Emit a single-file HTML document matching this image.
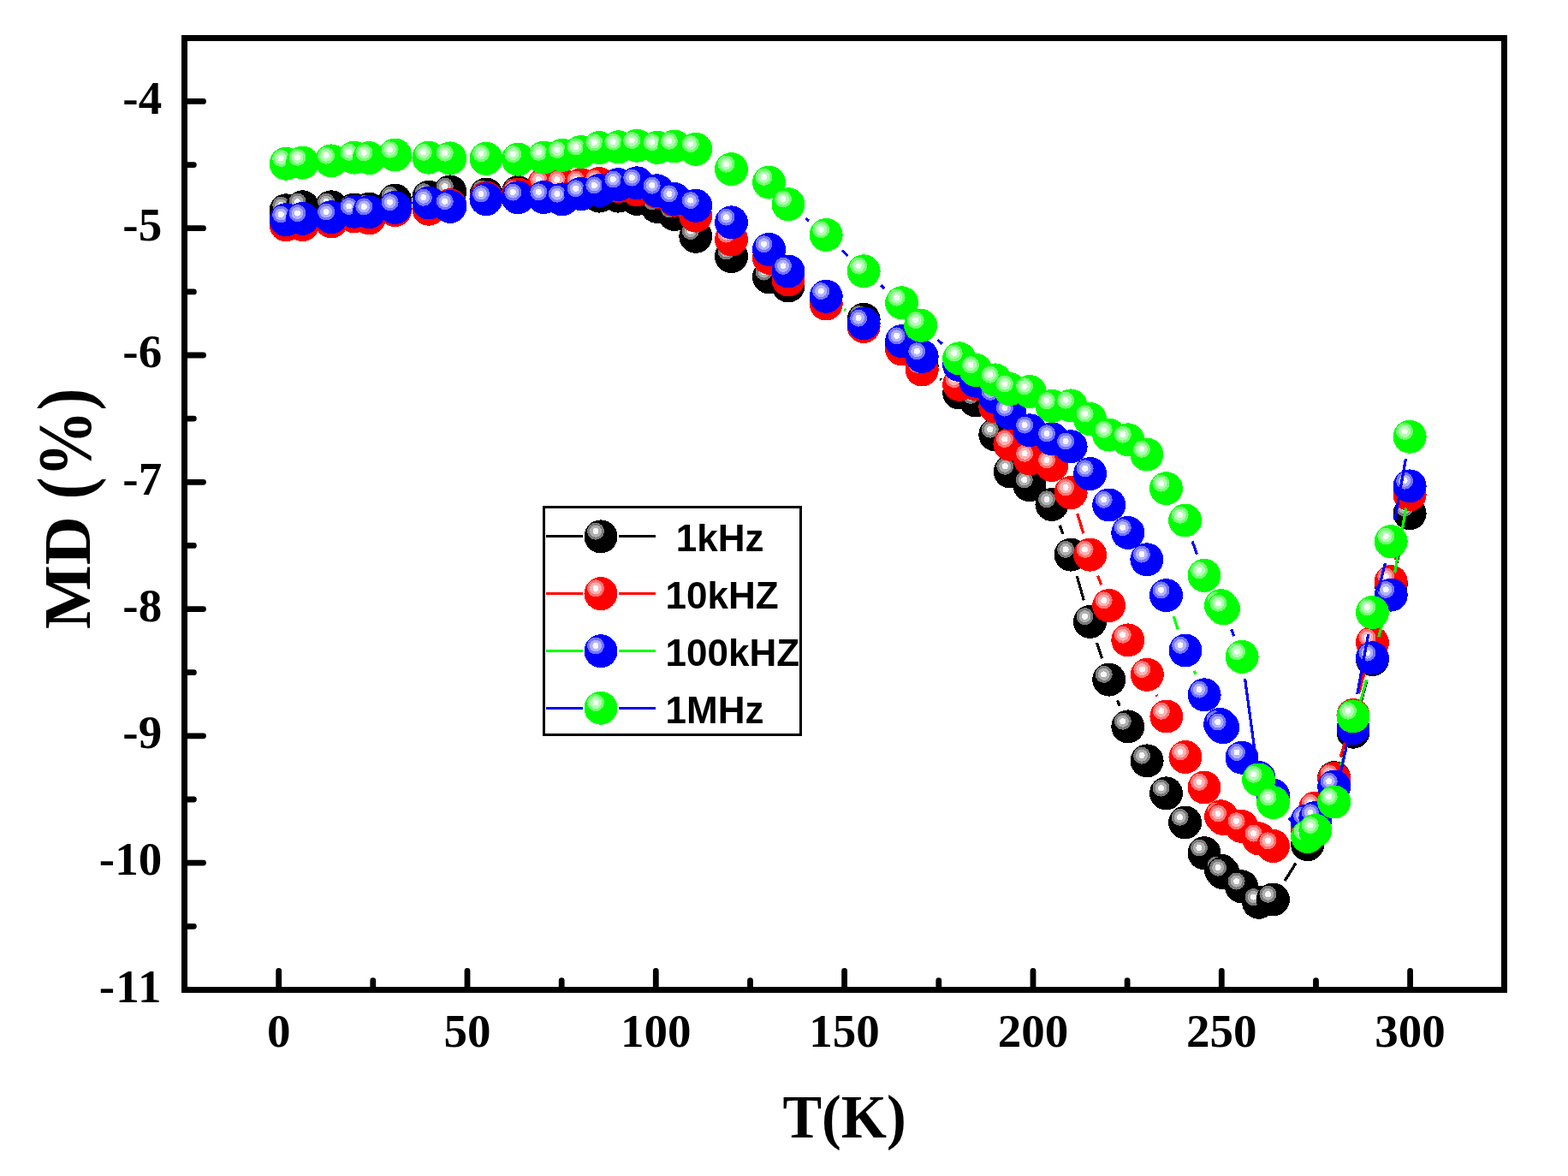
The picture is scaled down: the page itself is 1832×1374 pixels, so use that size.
<!DOCTYPE html>
<html lang="en"><head><meta charset="utf-8"><title>MD (%) vs T(K)</title>
<style>
html,body{margin:0;padding:0;background:#fff;}
body{width:1832px;height:1374px;overflow:hidden;}
svg{display:block;}
.tk{font-family:"Liberation Serif",serif;font-weight:bold;font-size:55px;fill:#000;}
.ax{font-family:"Liberation Serif",serif;font-weight:bold;font-size:72px;fill:#000;}
.lg{font-family:"Liberation Sans",sans-serif;font-weight:bold;font-size:43.5px;fill:#000;white-space:pre;}
</style></head><body>
<svg width="1832" height="1374" viewBox="0 0 1832 1374" shape-rendering="crispEdges">
<rect width="1832" height="1374" fill="#fff"/>

<g fill="none" stroke="#000" stroke-width="6.8" stroke-linecap="round" stroke-linejoin="miter">
<rect x="215.5" y="44.3" width="1542.3" height="1112.1"/>
<path stroke-width="6.8" shape-rendering="geometricPrecision" d="M325.7 1156.4V1134.5M435.8 1156.4V1145.6M546 1156.4V1134.5M656.2 1156.4V1145.6M766.3 1156.4V1134.5M876.5 1156.4V1145.6M986.6 1156.4V1134.5M1096.8 1156.4V1145.6M1207 1156.4V1134.5M1317.1 1156.4V1145.6M1427.3 1156.4V1134.5M1537.5 1156.4V1145.6M1647.6 1156.4V1134.5M215.5 118.4H237.5M215.5 192.6H226.4M215.5 266.7H237.5M215.5 340.9H226.4M215.5 415H237.5M215.5 489.1H226.4M215.5 563.3H237.5M215.5 637.4H226.4M215.5 711.6H237.5M215.5 785.7H226.4M215.5 859.8H237.5M215.5 934H226.4M215.5 1008.1H237.5M215.5 1082.3H226.4"/>
</g>
<g class="tk" text-anchor="end">
<text x="189.2" y="132.7">-4</text>
<text x="189.2" y="281">-5</text>
<text x="189.2" y="429.3">-6</text>
<text x="189.2" y="577.6">-7</text>
<text x="189.2" y="725.9">-8</text>
<text x="189.2" y="874.1">-9</text>
<text x="189.2" y="1022.4">-10</text>
<text x="189.9" y="1170.7" style="letter-spacing:1.3px">-11</text>
</g>
<g class="tk" text-anchor="middle">
<text x="325.7" y="1222.8">0</text>
<text x="546" y="1222.8">50</text>
<text x="766.3" y="1222.8">100</text>
<text x="986.6" y="1222.8">150</text>
<text x="1207" y="1222.8">200</text>
<text x="1427.3" y="1222.8">250</text>
<text x="1647.6" y="1222.8">300</text>
</g>
<text class="ax" text-anchor="middle" transform="translate(986.6 1329.2) scale(0.95 1.01)">T(K)</text>
<text class="ax" id="yl1" style="font-size:78px" transform="translate(105 735) rotate(-90) scale(1.015 1)">MD</text>
<text class="ax" id="yl2" style="font-size:78px" transform="translate(105 583.5) rotate(-90) scale(1 1.14)">(%)</text>
<g id="s-black">
<path fill="none" stroke="#000000" stroke-width="3.2" d="M1098.3 442.7L1099.6 443.8M1238.2 613.8L1241.9 623.8M1258.3 673.1L1266.3 701.4M1281.6 751.1L1287.6 769.4M1305.5 818.2L1308.1 824.8M1501.2 1029L1513.9 1008.7M1547.4 934.2L1548.1 932.5M1568.7 884.7L1571 879.2M1587.6 830.1L1596.8 795.6M1609.7 745.3L1618.9 708.2M1631.8 657.9L1640.5 624.9"/>
<circle cx="334.2" cy="245.8" r="19.5" fill="#000000"/><circle cx="328.2" cy="239.6" r="10" fill="#7a7a7a"/><circle cx="328.2" cy="239.6" r="7" fill="#b0b0b0"/><circle cx="328.2" cy="239.6" r="3.5" fill="#f8f8f8"/>
<circle cx="353.5" cy="241.8" r="19.5" fill="#000000"/><circle cx="347.5" cy="235.6" r="10" fill="#7a7a7a"/><circle cx="347.5" cy="235.6" r="7" fill="#b0b0b0"/><circle cx="347.5" cy="235.6" r="3.5" fill="#f8f8f8"/>
<circle cx="387.1" cy="241.8" r="19.5" fill="#000000"/><circle cx="381.1" cy="235.6" r="10" fill="#7a7a7a"/><circle cx="381.1" cy="235.6" r="7" fill="#b0b0b0"/><circle cx="381.1" cy="235.6" r="3.5" fill="#f8f8f8"/>
<circle cx="413.8" cy="245" r="19.5" fill="#000000"/><circle cx="407.8" cy="238.8" r="10" fill="#7a7a7a"/><circle cx="407.8" cy="238.8" r="7" fill="#b0b0b0"/><circle cx="407.8" cy="238.8" r="3.5" fill="#f8f8f8"/>
<circle cx="431.3" cy="244.2" r="19.5" fill="#000000"/><circle cx="425.3" cy="238" r="10" fill="#7a7a7a"/><circle cx="425.3" cy="238" r="7" fill="#b0b0b0"/><circle cx="425.3" cy="238" r="3.5" fill="#f8f8f8"/>
<circle cx="461.6" cy="234.1" r="19.5" fill="#000000"/><circle cx="455.6" cy="227.9" r="10" fill="#7a7a7a"/><circle cx="455.6" cy="227.9" r="7" fill="#b0b0b0"/><circle cx="455.6" cy="227.9" r="3.5" fill="#f8f8f8"/>
<circle cx="500.9" cy="230.3" r="19.5" fill="#000000"/><circle cx="494.9" cy="224.1" r="10" fill="#7a7a7a"/><circle cx="494.9" cy="224.1" r="7" fill="#b0b0b0"/><circle cx="494.9" cy="224.1" r="3.5" fill="#f8f8f8"/>
<circle cx="525.8" cy="223.9" r="19.5" fill="#000000"/><circle cx="519.8" cy="217.7" r="10" fill="#7a7a7a"/><circle cx="519.8" cy="217.7" r="7" fill="#b0b0b0"/><circle cx="519.8" cy="217.7" r="3.5" fill="#f8f8f8"/>
<circle cx="568" cy="227" r="19.5" fill="#000000"/><circle cx="562" cy="220.8" r="10" fill="#7a7a7a"/><circle cx="562" cy="220.8" r="7" fill="#b0b0b0"/><circle cx="562" cy="220.8" r="3.5" fill="#f8f8f8"/>
<circle cx="605.3" cy="224.6" r="19.5" fill="#000000"/><circle cx="599.3" cy="218.4" r="10" fill="#7a7a7a"/><circle cx="599.3" cy="218.4" r="7" fill="#b0b0b0"/><circle cx="599.3" cy="218.4" r="3.5" fill="#f8f8f8"/>
<circle cx="635.3" cy="221.4" r="19.5" fill="#000000"/><circle cx="629.3" cy="215.2" r="10" fill="#7a7a7a"/><circle cx="629.3" cy="215.2" r="7" fill="#b0b0b0"/><circle cx="629.3" cy="215.2" r="3.5" fill="#f8f8f8"/>
<circle cx="656.9" cy="221.4" r="19.5" fill="#000000"/><circle cx="650.9" cy="215.2" r="10" fill="#7a7a7a"/><circle cx="650.9" cy="215.2" r="7" fill="#b0b0b0"/><circle cx="650.9" cy="215.2" r="3.5" fill="#f8f8f8"/>
<circle cx="678.7" cy="226.7" r="19.5" fill="#000000"/><circle cx="672.7" cy="220.5" r="10" fill="#7a7a7a"/><circle cx="672.7" cy="220.5" r="7" fill="#b0b0b0"/><circle cx="672.7" cy="220.5" r="3.5" fill="#f8f8f8"/>
<circle cx="700.3" cy="229.1" r="19.5" fill="#000000"/><circle cx="694.3" cy="222.9" r="10" fill="#7a7a7a"/><circle cx="694.3" cy="222.9" r="7" fill="#b0b0b0"/><circle cx="694.3" cy="222.9" r="3.5" fill="#f8f8f8"/>
<circle cx="722.4" cy="229.1" r="19.5" fill="#000000"/><circle cx="716.4" cy="222.9" r="10" fill="#7a7a7a"/><circle cx="716.4" cy="222.9" r="7" fill="#b0b0b0"/><circle cx="716.4" cy="222.9" r="3.5" fill="#f8f8f8"/>
<circle cx="744.2" cy="232.4" r="19.5" fill="#000000"/><circle cx="738.2" cy="226.2" r="10" fill="#7a7a7a"/><circle cx="738.2" cy="226.2" r="7" fill="#b0b0b0"/><circle cx="738.2" cy="226.2" r="3.5" fill="#f8f8f8"/>
<circle cx="767.7" cy="241.4" r="19.5" fill="#000000"/><circle cx="761.7" cy="235.2" r="10" fill="#7a7a7a"/><circle cx="761.7" cy="235.2" r="7" fill="#b0b0b0"/><circle cx="761.7" cy="235.2" r="3.5" fill="#f8f8f8"/>
<circle cx="787.9" cy="250.4" r="19.5" fill="#000000"/><circle cx="781.9" cy="244.2" r="10" fill="#7a7a7a"/><circle cx="781.9" cy="244.2" r="7" fill="#b0b0b0"/><circle cx="781.9" cy="244.2" r="3.5" fill="#f8f8f8"/>
<circle cx="812.8" cy="276.3" r="19.5" fill="#000000"/><circle cx="806.8" cy="270.1" r="10" fill="#7a7a7a"/><circle cx="806.8" cy="270.1" r="7" fill="#b0b0b0"/><circle cx="806.8" cy="270.1" r="3.5" fill="#f8f8f8"/>
<circle cx="854.5" cy="299.6" r="19.5" fill="#000000"/><circle cx="848.5" cy="293.4" r="10" fill="#7a7a7a"/><circle cx="848.5" cy="293.4" r="7" fill="#b0b0b0"/><circle cx="848.5" cy="293.4" r="3.5" fill="#f8f8f8"/>
<circle cx="898.5" cy="323.8" r="19.5" fill="#000000"/><circle cx="892.5" cy="317.6" r="10" fill="#7a7a7a"/><circle cx="892.5" cy="317.6" r="7" fill="#b0b0b0"/><circle cx="892.5" cy="317.6" r="3.5" fill="#f8f8f8"/>
<circle cx="921" cy="334" r="19.5" fill="#000000"/><circle cx="915" cy="327.8" r="10" fill="#7a7a7a"/><circle cx="915" cy="327.8" r="7" fill="#b0b0b0"/><circle cx="915" cy="327.8" r="3.5" fill="#f8f8f8"/>
<circle cx="965.2" cy="355" r="19.5" fill="#000000"/><circle cx="959.2" cy="348.8" r="10" fill="#7a7a7a"/><circle cx="959.2" cy="348.8" r="7" fill="#b0b0b0"/><circle cx="959.2" cy="348.8" r="3.5" fill="#f8f8f8"/>
<circle cx="1009.1" cy="373.3" r="19.5" fill="#000000"/><circle cx="1003.1" cy="367.1" r="10" fill="#7a7a7a"/><circle cx="1003.1" cy="367.1" r="7" fill="#b0b0b0"/><circle cx="1003.1" cy="367.1" r="3.5" fill="#f8f8f8"/>
<circle cx="1053.6" cy="400" r="19.5" fill="#000000"/><circle cx="1047.6" cy="393.8" r="10" fill="#7a7a7a"/><circle cx="1047.6" cy="393.8" r="7" fill="#b0b0b0"/><circle cx="1047.6" cy="393.8" r="3.5" fill="#f8f8f8"/>
<circle cx="1077.2" cy="427.5" r="19.5" fill="#000000"/><circle cx="1071.2" cy="421.3" r="10" fill="#7a7a7a"/><circle cx="1071.2" cy="421.3" r="7" fill="#b0b0b0"/><circle cx="1071.2" cy="421.3" r="3.5" fill="#f8f8f8"/>
<circle cx="1120.7" cy="459" r="19.5" fill="#000000"/><circle cx="1114.7" cy="452.8" r="10" fill="#7a7a7a"/><circle cx="1114.7" cy="452.8" r="7" fill="#b0b0b0"/><circle cx="1114.7" cy="452.8" r="3.5" fill="#f8f8f8"/>
<circle cx="1140" cy="468" r="19.5" fill="#000000"/><circle cx="1134" cy="461.8" r="10" fill="#7a7a7a"/><circle cx="1134" cy="461.8" r="7" fill="#b0b0b0"/><circle cx="1134" cy="461.8" r="3.5" fill="#f8f8f8"/>
<circle cx="1162.8" cy="507.9" r="19.5" fill="#000000"/><circle cx="1156.8" cy="501.7" r="10" fill="#7a7a7a"/><circle cx="1156.8" cy="501.7" r="7" fill="#b0b0b0"/><circle cx="1156.8" cy="501.7" r="3.5" fill="#f8f8f8"/>
<circle cx="1180.2" cy="551" r="19.5" fill="#000000"/><circle cx="1174.2" cy="544.8" r="10" fill="#7a7a7a"/><circle cx="1174.2" cy="544.8" r="7" fill="#b0b0b0"/><circle cx="1174.2" cy="544.8" r="3.5" fill="#f8f8f8"/>
<circle cx="1202.8" cy="566.7" r="19.5" fill="#000000"/><circle cx="1196.8" cy="560.5" r="10" fill="#7a7a7a"/><circle cx="1196.8" cy="560.5" r="7" fill="#b0b0b0"/><circle cx="1196.8" cy="560.5" r="3.5" fill="#f8f8f8"/>
<circle cx="1229" cy="589.5" r="19.5" fill="#000000"/><circle cx="1223" cy="583.3" r="10" fill="#7a7a7a"/><circle cx="1223" cy="583.3" r="7" fill="#b0b0b0"/><circle cx="1223" cy="583.3" r="3.5" fill="#f8f8f8"/>
<circle cx="1251.1" cy="648.1" r="19.5" fill="#000000"/><circle cx="1245.1" cy="641.9" r="10" fill="#7a7a7a"/><circle cx="1245.1" cy="641.9" r="7" fill="#b0b0b0"/><circle cx="1245.1" cy="641.9" r="3.5" fill="#f8f8f8"/>
<circle cx="1273.5" cy="726.4" r="19.5" fill="#000000"/><circle cx="1267.5" cy="720.2" r="10" fill="#7a7a7a"/><circle cx="1267.5" cy="720.2" r="7" fill="#b0b0b0"/><circle cx="1267.5" cy="720.2" r="3.5" fill="#f8f8f8"/>
<circle cx="1295.7" cy="794.1" r="19.5" fill="#000000"/><circle cx="1289.7" cy="787.9" r="10" fill="#7a7a7a"/><circle cx="1289.7" cy="787.9" r="7" fill="#b0b0b0"/><circle cx="1289.7" cy="787.9" r="3.5" fill="#f8f8f8"/>
<circle cx="1317.8" cy="848.9" r="19.5" fill="#000000"/><circle cx="1311.8" cy="842.7" r="10" fill="#7a7a7a"/><circle cx="1311.8" cy="842.7" r="7" fill="#b0b0b0"/><circle cx="1311.8" cy="842.7" r="3.5" fill="#f8f8f8"/>
<circle cx="1340.1" cy="888.9" r="19.5" fill="#000000"/><circle cx="1334.1" cy="882.7" r="10" fill="#7a7a7a"/><circle cx="1334.1" cy="882.7" r="7" fill="#b0b0b0"/><circle cx="1334.1" cy="882.7" r="3.5" fill="#f8f8f8"/>
<circle cx="1362.5" cy="926.9" r="19.5" fill="#000000"/><circle cx="1356.5" cy="920.7" r="10" fill="#7a7a7a"/><circle cx="1356.5" cy="920.7" r="7" fill="#b0b0b0"/><circle cx="1356.5" cy="920.7" r="3.5" fill="#f8f8f8"/>
<circle cx="1384.6" cy="961" r="19.5" fill="#000000"/><circle cx="1378.6" cy="954.8" r="10" fill="#7a7a7a"/><circle cx="1378.6" cy="954.8" r="7" fill="#b0b0b0"/><circle cx="1378.6" cy="954.8" r="3.5" fill="#f8f8f8"/>
<circle cx="1407" cy="996.7" r="19.5" fill="#000000"/><circle cx="1401" cy="990.5" r="10" fill="#7a7a7a"/><circle cx="1401" cy="990.5" r="7" fill="#b0b0b0"/><circle cx="1401" cy="990.5" r="3.5" fill="#f8f8f8"/>
<circle cx="1426.6" cy="1017.1" r="19.5" fill="#000000"/><circle cx="1420.6" cy="1010.9" r="10" fill="#7a7a7a"/><circle cx="1420.6" cy="1010.9" r="7" fill="#b0b0b0"/><circle cx="1420.6" cy="1010.9" r="3.5" fill="#f8f8f8"/>
<circle cx="1429.1" cy="1019.9" r="19.5" fill="#000000"/><circle cx="1423.1" cy="1013.7" r="10" fill="#7a7a7a"/><circle cx="1423.1" cy="1013.7" r="7" fill="#b0b0b0"/><circle cx="1423.1" cy="1013.7" r="3.5" fill="#f8f8f8"/>
<circle cx="1450.6" cy="1035.8" r="19.5" fill="#000000"/><circle cx="1444.6" cy="1029.6" r="10" fill="#7a7a7a"/><circle cx="1444.6" cy="1029.6" r="7" fill="#b0b0b0"/><circle cx="1444.6" cy="1029.6" r="3.5" fill="#f8f8f8"/>
<circle cx="1470.6" cy="1054.3" r="19.5" fill="#000000"/><circle cx="1464.6" cy="1048.1" r="10" fill="#7a7a7a"/><circle cx="1464.6" cy="1048.1" r="7" fill="#b0b0b0"/><circle cx="1464.6" cy="1048.1" r="3.5" fill="#f8f8f8"/>
<circle cx="1487.4" cy="1051" r="19.5" fill="#000000"/><circle cx="1481.4" cy="1044.8" r="10" fill="#7a7a7a"/><circle cx="1481.4" cy="1044.8" r="7" fill="#b0b0b0"/><circle cx="1481.4" cy="1044.8" r="3.5" fill="#f8f8f8"/>
<circle cx="1527.7" cy="986.7" r="19.5" fill="#000000"/><circle cx="1521.7" cy="980.5" r="10" fill="#7a7a7a"/><circle cx="1521.7" cy="980.5" r="7" fill="#b0b0b0"/><circle cx="1521.7" cy="980.5" r="3.5" fill="#f8f8f8"/>
<circle cx="1536.8" cy="958" r="19.5" fill="#000000"/><circle cx="1530.8" cy="951.8" r="10" fill="#7a7a7a"/><circle cx="1530.8" cy="951.8" r="7" fill="#b0b0b0"/><circle cx="1530.8" cy="951.8" r="3.5" fill="#f8f8f8"/>
<circle cx="1558.7" cy="908.7" r="19.5" fill="#000000"/><circle cx="1552.7" cy="902.5" r="10" fill="#7a7a7a"/><circle cx="1552.7" cy="902.5" r="7" fill="#b0b0b0"/><circle cx="1552.7" cy="902.5" r="3.5" fill="#f8f8f8"/>
<circle cx="1581" cy="855.2" r="19.5" fill="#000000"/><circle cx="1575" cy="849" r="10" fill="#7a7a7a"/><circle cx="1575" cy="849" r="7" fill="#b0b0b0"/><circle cx="1575" cy="849" r="3.5" fill="#f8f8f8"/>
<circle cx="1603.4" cy="770.5" r="19.5" fill="#000000"/><circle cx="1597.4" cy="764.3" r="10" fill="#7a7a7a"/><circle cx="1597.4" cy="764.3" r="7" fill="#b0b0b0"/><circle cx="1597.4" cy="764.3" r="3.5" fill="#f8f8f8"/>
<circle cx="1625.2" cy="683" r="19.5" fill="#000000"/><circle cx="1619.2" cy="676.8" r="10" fill="#7a7a7a"/><circle cx="1619.2" cy="676.8" r="7" fill="#b0b0b0"/><circle cx="1619.2" cy="676.8" r="3.5" fill="#f8f8f8"/>
<circle cx="1647.1" cy="599.8" r="19.5" fill="#000000"/><circle cx="1641.1" cy="593.6" r="10" fill="#7a7a7a"/><circle cx="1641.1" cy="593.6" r="7" fill="#b0b0b0"/><circle cx="1641.1" cy="593.6" r="3.5" fill="#f8f8f8"/>
</g>
<g id="s-red">
<path fill="none" stroke="#ff0000" stroke-width="3.2" d="M1258.8 600.4L1265.9 623.3M1282.6 672.5L1286.7 683.3M1351.2 811.9L1351.9 813.4M1566.2 884.7L1573.5 860.4M1587.6 810.4L1596.8 775.9M1611 725.9L1617.6 704.5M1630.7 654.2L1641.6 603.4"/>
<circle cx="334.2" cy="262.7" r="19.5" fill="#ff0000"/><circle cx="328.2" cy="256.5" r="10" fill="#ff7474"/><circle cx="328.2" cy="256.5" r="7" fill="#ffb2b2"/><circle cx="328.2" cy="256.5" r="3.5" fill="#fff8f8"/>
<circle cx="353.5" cy="262.7" r="19.5" fill="#ff0000"/><circle cx="347.5" cy="256.5" r="10" fill="#ff7474"/><circle cx="347.5" cy="256.5" r="7" fill="#ffb2b2"/><circle cx="347.5" cy="256.5" r="3.5" fill="#fff8f8"/>
<circle cx="387.1" cy="258.9" r="19.5" fill="#ff0000"/><circle cx="381.1" cy="252.7" r="10" fill="#ff7474"/><circle cx="381.1" cy="252.7" r="7" fill="#ffb2b2"/><circle cx="381.1" cy="252.7" r="3.5" fill="#fff8f8"/>
<circle cx="413.8" cy="252.9" r="19.5" fill="#ff0000"/><circle cx="407.8" cy="246.7" r="10" fill="#ff7474"/><circle cx="407.8" cy="246.7" r="7" fill="#ffb2b2"/><circle cx="407.8" cy="246.7" r="3.5" fill="#fff8f8"/>
<circle cx="431.3" cy="254.9" r="19.5" fill="#ff0000"/><circle cx="425.3" cy="248.7" r="10" fill="#ff7474"/><circle cx="425.3" cy="248.7" r="7" fill="#ffb2b2"/><circle cx="425.3" cy="248.7" r="3.5" fill="#fff8f8"/>
<circle cx="461.6" cy="245.5" r="19.5" fill="#ff0000"/><circle cx="455.6" cy="239.3" r="10" fill="#ff7474"/><circle cx="455.6" cy="239.3" r="7" fill="#ffb2b2"/><circle cx="455.6" cy="239.3" r="3.5" fill="#fff8f8"/>
<circle cx="500.9" cy="244.2" r="19.5" fill="#ff0000"/><circle cx="494.9" cy="238" r="10" fill="#ff7474"/><circle cx="494.9" cy="238" r="7" fill="#ffb2b2"/><circle cx="494.9" cy="238" r="3.5" fill="#fff8f8"/>
<circle cx="525.8" cy="239.6" r="19.5" fill="#ff0000"/><circle cx="519.8" cy="233.4" r="10" fill="#ff7474"/><circle cx="519.8" cy="233.4" r="7" fill="#ffb2b2"/><circle cx="519.8" cy="233.4" r="3.5" fill="#fff8f8"/>
<circle cx="568" cy="231.1" r="19.5" fill="#ff0000"/><circle cx="562" cy="224.9" r="10" fill="#ff7474"/><circle cx="562" cy="224.9" r="7" fill="#ffb2b2"/><circle cx="562" cy="224.9" r="3.5" fill="#fff8f8"/>
<circle cx="605.3" cy="227" r="19.5" fill="#ff0000"/><circle cx="599.3" cy="220.8" r="10" fill="#ff7474"/><circle cx="599.3" cy="220.8" r="7" fill="#ffb2b2"/><circle cx="599.3" cy="220.8" r="3.5" fill="#fff8f8"/>
<circle cx="635.3" cy="215.7" r="19.5" fill="#ff0000"/><circle cx="629.3" cy="209.5" r="10" fill="#ff7474"/><circle cx="629.3" cy="209.5" r="7" fill="#ffb2b2"/><circle cx="629.3" cy="209.5" r="3.5" fill="#fff8f8"/>
<circle cx="656.9" cy="216" r="19.5" fill="#ff0000"/><circle cx="650.9" cy="209.8" r="10" fill="#ff7474"/><circle cx="650.9" cy="209.8" r="7" fill="#ffb2b2"/><circle cx="650.9" cy="209.8" r="3.5" fill="#fff8f8"/>
<circle cx="678.7" cy="215.7" r="19.5" fill="#ff0000"/><circle cx="672.7" cy="209.5" r="10" fill="#ff7474"/><circle cx="672.7" cy="209.5" r="7" fill="#ffb2b2"/><circle cx="672.7" cy="209.5" r="3.5" fill="#fff8f8"/>
<circle cx="700.3" cy="214.6" r="19.5" fill="#ff0000"/><circle cx="694.3" cy="208.4" r="10" fill="#ff7474"/><circle cx="694.3" cy="208.4" r="7" fill="#ffb2b2"/><circle cx="694.3" cy="208.4" r="3.5" fill="#fff8f8"/>
<circle cx="722.4" cy="217.7" r="19.5" fill="#ff0000"/><circle cx="716.4" cy="211.5" r="10" fill="#ff7474"/><circle cx="716.4" cy="211.5" r="7" fill="#ffb2b2"/><circle cx="716.4" cy="211.5" r="3.5" fill="#fff8f8"/>
<circle cx="744.2" cy="221.8" r="19.5" fill="#ff0000"/><circle cx="738.2" cy="215.6" r="10" fill="#ff7474"/><circle cx="738.2" cy="215.6" r="7" fill="#ffb2b2"/><circle cx="738.2" cy="215.6" r="3.5" fill="#fff8f8"/>
<circle cx="767.7" cy="224.2" r="19.5" fill="#ff0000"/><circle cx="761.7" cy="218" r="10" fill="#ff7474"/><circle cx="761.7" cy="218" r="7" fill="#ffb2b2"/><circle cx="761.7" cy="218" r="3.5" fill="#fff8f8"/>
<circle cx="787.9" cy="234.1" r="19.5" fill="#ff0000"/><circle cx="781.9" cy="227.9" r="10" fill="#ff7474"/><circle cx="781.9" cy="227.9" r="7" fill="#ffb2b2"/><circle cx="781.9" cy="227.9" r="3.5" fill="#fff8f8"/>
<circle cx="812.8" cy="252.1" r="19.5" fill="#ff0000"/><circle cx="806.8" cy="245.9" r="10" fill="#ff7474"/><circle cx="806.8" cy="245.9" r="7" fill="#ffb2b2"/><circle cx="806.8" cy="245.9" r="3.5" fill="#fff8f8"/>
<circle cx="854.5" cy="279.9" r="19.5" fill="#ff0000"/><circle cx="848.5" cy="273.7" r="10" fill="#ff7474"/><circle cx="848.5" cy="273.7" r="7" fill="#ffb2b2"/><circle cx="848.5" cy="273.7" r="3.5" fill="#fff8f8"/>
<circle cx="898.5" cy="301.3" r="19.5" fill="#ff0000"/><circle cx="892.5" cy="295.1" r="10" fill="#ff7474"/><circle cx="892.5" cy="295.1" r="7" fill="#ffb2b2"/><circle cx="892.5" cy="295.1" r="3.5" fill="#fff8f8"/>
<circle cx="921" cy="327" r="19.5" fill="#ff0000"/><circle cx="915" cy="320.8" r="10" fill="#ff7474"/><circle cx="915" cy="320.8" r="7" fill="#ffb2b2"/><circle cx="915" cy="320.8" r="3.5" fill="#fff8f8"/>
<circle cx="965.2" cy="355" r="19.5" fill="#ff0000"/><circle cx="959.2" cy="348.8" r="10" fill="#ff7474"/><circle cx="959.2" cy="348.8" r="7" fill="#ffb2b2"/><circle cx="959.2" cy="348.8" r="3.5" fill="#fff8f8"/>
<circle cx="1009.1" cy="381.5" r="19.5" fill="#ff0000"/><circle cx="1003.1" cy="375.3" r="10" fill="#ff7474"/><circle cx="1003.1" cy="375.3" r="7" fill="#ffb2b2"/><circle cx="1003.1" cy="375.3" r="3.5" fill="#fff8f8"/>
<circle cx="1053.6" cy="408" r="19.5" fill="#ff0000"/><circle cx="1047.6" cy="401.8" r="10" fill="#ff7474"/><circle cx="1047.6" cy="401.8" r="7" fill="#ffb2b2"/><circle cx="1047.6" cy="401.8" r="3.5" fill="#fff8f8"/>
<circle cx="1077.2" cy="432" r="19.5" fill="#ff0000"/><circle cx="1071.2" cy="425.8" r="10" fill="#ff7474"/><circle cx="1071.2" cy="425.8" r="7" fill="#ffb2b2"/><circle cx="1071.2" cy="425.8" r="3.5" fill="#fff8f8"/>
<circle cx="1120.7" cy="449.3" r="19.5" fill="#ff0000"/><circle cx="1114.7" cy="443.1" r="10" fill="#ff7474"/><circle cx="1114.7" cy="443.1" r="7" fill="#ffb2b2"/><circle cx="1114.7" cy="443.1" r="3.5" fill="#fff8f8"/>
<circle cx="1140" cy="448.6" r="19.5" fill="#ff0000"/><circle cx="1134" cy="442.4" r="10" fill="#ff7474"/><circle cx="1134" cy="442.4" r="7" fill="#ffb2b2"/><circle cx="1134" cy="442.4" r="3.5" fill="#fff8f8"/>
<circle cx="1162.8" cy="475" r="19.5" fill="#ff0000"/><circle cx="1156.8" cy="468.8" r="10" fill="#ff7474"/><circle cx="1156.8" cy="468.8" r="7" fill="#ffb2b2"/><circle cx="1156.8" cy="468.8" r="3.5" fill="#fff8f8"/>
<circle cx="1179.9" cy="519.2" r="19.5" fill="#ff0000"/><circle cx="1173.9" cy="513" r="10" fill="#ff7474"/><circle cx="1173.9" cy="513" r="7" fill="#ffb2b2"/><circle cx="1173.9" cy="513" r="3.5" fill="#fff8f8"/>
<circle cx="1203.1" cy="536" r="19.5" fill="#ff0000"/><circle cx="1197.1" cy="529.8" r="10" fill="#ff7474"/><circle cx="1197.1" cy="529.8" r="7" fill="#ffb2b2"/><circle cx="1197.1" cy="529.8" r="3.5" fill="#fff8f8"/>
<circle cx="1229" cy="543.5" r="19.5" fill="#ff0000"/><circle cx="1223" cy="537.3" r="10" fill="#ff7474"/><circle cx="1223" cy="537.3" r="7" fill="#ffb2b2"/><circle cx="1223" cy="537.3" r="3.5" fill="#fff8f8"/>
<circle cx="1251.1" cy="575.6" r="19.5" fill="#ff0000"/><circle cx="1245.1" cy="569.4" r="10" fill="#ff7474"/><circle cx="1245.1" cy="569.4" r="7" fill="#ffb2b2"/><circle cx="1245.1" cy="569.4" r="3.5" fill="#fff8f8"/>
<circle cx="1273.6" cy="648.1" r="19.5" fill="#ff0000"/><circle cx="1267.6" cy="641.9" r="10" fill="#ff7474"/><circle cx="1267.6" cy="641.9" r="7" fill="#ffb2b2"/><circle cx="1267.6" cy="641.9" r="3.5" fill="#fff8f8"/>
<circle cx="1295.7" cy="707.6" r="19.5" fill="#ff0000"/><circle cx="1289.7" cy="701.4" r="10" fill="#ff7474"/><circle cx="1289.7" cy="701.4" r="7" fill="#ffb2b2"/><circle cx="1289.7" cy="701.4" r="3.5" fill="#fff8f8"/>
<circle cx="1317.8" cy="747.9" r="19.5" fill="#ff0000"/><circle cx="1311.8" cy="741.7" r="10" fill="#ff7474"/><circle cx="1311.8" cy="741.7" r="7" fill="#ffb2b2"/><circle cx="1311.8" cy="741.7" r="3.5" fill="#fff8f8"/>
<circle cx="1340.3" cy="788.3" r="19.5" fill="#ff0000"/><circle cx="1334.3" cy="782.1" r="10" fill="#ff7474"/><circle cx="1334.3" cy="782.1" r="7" fill="#ffb2b2"/><circle cx="1334.3" cy="782.1" r="3.5" fill="#fff8f8"/>
<circle cx="1362.9" cy="837" r="19.5" fill="#ff0000"/><circle cx="1356.9" cy="830.8" r="10" fill="#ff7474"/><circle cx="1356.9" cy="830.8" r="7" fill="#ffb2b2"/><circle cx="1356.9" cy="830.8" r="3.5" fill="#fff8f8"/>
<circle cx="1385" cy="884.5" r="19.5" fill="#ff0000"/><circle cx="1379" cy="878.3" r="10" fill="#ff7474"/><circle cx="1379" cy="878.3" r="7" fill="#ffb2b2"/><circle cx="1379" cy="878.3" r="3.5" fill="#fff8f8"/>
<circle cx="1407" cy="920" r="19.5" fill="#ff0000"/><circle cx="1401" cy="913.8" r="10" fill="#ff7474"/><circle cx="1401" cy="913.8" r="7" fill="#ffb2b2"/><circle cx="1401" cy="913.8" r="3.5" fill="#fff8f8"/>
<circle cx="1426.6" cy="953.8" r="19.5" fill="#ff0000"/><circle cx="1420.6" cy="947.6" r="10" fill="#ff7474"/><circle cx="1420.6" cy="947.6" r="7" fill="#ffb2b2"/><circle cx="1420.6" cy="947.6" r="3.5" fill="#fff8f8"/>
<circle cx="1429.1" cy="956.6" r="19.5" fill="#ff0000"/><circle cx="1423.1" cy="950.4" r="10" fill="#ff7474"/><circle cx="1423.1" cy="950.4" r="7" fill="#ffb2b2"/><circle cx="1423.1" cy="950.4" r="3.5" fill="#fff8f8"/>
<circle cx="1450.6" cy="965.4" r="19.5" fill="#ff0000"/><circle cx="1444.6" cy="959.2" r="10" fill="#ff7474"/><circle cx="1444.6" cy="959.2" r="7" fill="#ffb2b2"/><circle cx="1444.6" cy="959.2" r="3.5" fill="#fff8f8"/>
<circle cx="1470.6" cy="979.8" r="19.5" fill="#ff0000"/><circle cx="1464.6" cy="973.6" r="10" fill="#ff7474"/><circle cx="1464.6" cy="973.6" r="7" fill="#ffb2b2"/><circle cx="1464.6" cy="973.6" r="3.5" fill="#fff8f8"/>
<circle cx="1487.4" cy="988.5" r="19.5" fill="#ff0000"/><circle cx="1481.4" cy="982.3" r="10" fill="#ff7474"/><circle cx="1481.4" cy="982.3" r="7" fill="#ffb2b2"/><circle cx="1481.4" cy="982.3" r="3.5" fill="#fff8f8"/>
<circle cx="1527.5" cy="969.2" r="19.5" fill="#ff0000"/><circle cx="1521.5" cy="963" r="10" fill="#ff7474"/><circle cx="1521.5" cy="963" r="7" fill="#ffb2b2"/><circle cx="1521.5" cy="963" r="3.5" fill="#fff8f8"/>
<circle cx="1536.7" cy="944" r="19.5" fill="#ff0000"/><circle cx="1530.7" cy="937.8" r="10" fill="#ff7474"/><circle cx="1530.7" cy="937.8" r="7" fill="#ffb2b2"/><circle cx="1530.7" cy="937.8" r="3.5" fill="#fff8f8"/>
<circle cx="1558.7" cy="909.6" r="19.5" fill="#ff0000"/><circle cx="1552.7" cy="903.4" r="10" fill="#ff7474"/><circle cx="1552.7" cy="903.4" r="7" fill="#ffb2b2"/><circle cx="1552.7" cy="903.4" r="3.5" fill="#fff8f8"/>
<circle cx="1581" cy="835.5" r="19.5" fill="#ff0000"/><circle cx="1575" cy="829.3" r="10" fill="#ff7474"/><circle cx="1575" cy="829.3" r="7" fill="#ffb2b2"/><circle cx="1575" cy="829.3" r="3.5" fill="#fff8f8"/>
<circle cx="1603.4" cy="750.8" r="19.5" fill="#ff0000"/><circle cx="1597.4" cy="744.6" r="10" fill="#ff7474"/><circle cx="1597.4" cy="744.6" r="7" fill="#ffb2b2"/><circle cx="1597.4" cy="744.6" r="3.5" fill="#fff8f8"/>
<circle cx="1625.2" cy="679.6" r="19.5" fill="#ff0000"/><circle cx="1619.2" cy="673.4" r="10" fill="#ff7474"/><circle cx="1619.2" cy="673.4" r="7" fill="#ffb2b2"/><circle cx="1619.2" cy="673.4" r="3.5" fill="#fff8f8"/>
<circle cx="1647.1" cy="578" r="19.5" fill="#ff0000"/><circle cx="1641.1" cy="571.8" r="10" fill="#ff7474"/><circle cx="1641.1" cy="571.8" r="7" fill="#ffb2b2"/><circle cx="1641.1" cy="571.8" r="3.5" fill="#fff8f8"/>
</g>
<g id="s-blue">
<path fill="none" stroke="#00ff00" stroke-width="3.2" d="M986.3 361.5L988 362.7M1371.1 720.2L1376.4 735.5M1395.2 783.9L1396.9 787.9M1566.8 894.3L1572.9 875.7M1587.8 825.9L1596.6 793.9M1610.8 743.9L1617.8 720M1629.6 669.5L1642.7 593.5"/>
<circle cx="334.2" cy="256.7" r="19.5" fill="#0000ff"/><circle cx="328.2" cy="250.5" r="10" fill="#7474ff"/><circle cx="328.2" cy="250.5" r="7" fill="#b2b2ff"/><circle cx="328.2" cy="250.5" r="3.5" fill="#f8f8ff"/>
<circle cx="353.5" cy="255.3" r="19.5" fill="#0000ff"/><circle cx="347.5" cy="249.1" r="10" fill="#7474ff"/><circle cx="347.5" cy="249.1" r="7" fill="#b2b2ff"/><circle cx="347.5" cy="249.1" r="3.5" fill="#f8f8ff"/>
<circle cx="387.1" cy="253.7" r="19.5" fill="#0000ff"/><circle cx="381.1" cy="247.5" r="10" fill="#7474ff"/><circle cx="381.1" cy="247.5" r="7" fill="#b2b2ff"/><circle cx="381.1" cy="247.5" r="3.5" fill="#f8f8ff"/>
<circle cx="413.8" cy="247.2" r="19.5" fill="#0000ff"/><circle cx="407.8" cy="241" r="10" fill="#7474ff"/><circle cx="407.8" cy="241" r="7" fill="#b2b2ff"/><circle cx="407.8" cy="241" r="3.5" fill="#f8f8ff"/>
<circle cx="431.3" cy="247.6" r="19.5" fill="#0000ff"/><circle cx="425.3" cy="241.4" r="10" fill="#7474ff"/><circle cx="425.3" cy="241.4" r="7" fill="#b2b2ff"/><circle cx="425.3" cy="241.4" r="3.5" fill="#f8f8ff"/>
<circle cx="461.6" cy="242.4" r="19.5" fill="#0000ff"/><circle cx="455.6" cy="236.2" r="10" fill="#7474ff"/><circle cx="455.6" cy="236.2" r="7" fill="#b2b2ff"/><circle cx="455.6" cy="236.2" r="3.5" fill="#f8f8ff"/>
<circle cx="500.9" cy="237" r="19.5" fill="#0000ff"/><circle cx="494.9" cy="230.8" r="10" fill="#7474ff"/><circle cx="494.9" cy="230.8" r="7" fill="#b2b2ff"/><circle cx="494.9" cy="230.8" r="3.5" fill="#f8f8ff"/>
<circle cx="525.8" cy="241.4" r="19.5" fill="#0000ff"/><circle cx="519.8" cy="235.2" r="10" fill="#7474ff"/><circle cx="519.8" cy="235.2" r="7" fill="#b2b2ff"/><circle cx="519.8" cy="235.2" r="3.5" fill="#f8f8ff"/>
<circle cx="568" cy="232.6" r="19.5" fill="#0000ff"/><circle cx="562" cy="226.4" r="10" fill="#7474ff"/><circle cx="562" cy="226.4" r="7" fill="#b2b2ff"/><circle cx="562" cy="226.4" r="3.5" fill="#f8f8ff"/>
<circle cx="605.3" cy="230.8" r="19.5" fill="#0000ff"/><circle cx="599.3" cy="224.6" r="10" fill="#7474ff"/><circle cx="599.3" cy="224.6" r="7" fill="#b2b2ff"/><circle cx="599.3" cy="224.6" r="3.5" fill="#f8f8ff"/>
<circle cx="635.3" cy="230.5" r="19.5" fill="#0000ff"/><circle cx="629.3" cy="224.3" r="10" fill="#7474ff"/><circle cx="629.3" cy="224.3" r="7" fill="#b2b2ff"/><circle cx="629.3" cy="224.3" r="3.5" fill="#f8f8ff"/>
<circle cx="656.9" cy="232.9" r="19.5" fill="#0000ff"/><circle cx="650.9" cy="226.7" r="10" fill="#7474ff"/><circle cx="650.9" cy="226.7" r="7" fill="#b2b2ff"/><circle cx="650.9" cy="226.7" r="3.5" fill="#f8f8ff"/>
<circle cx="678.7" cy="226.4" r="19.5" fill="#0000ff"/><circle cx="672.7" cy="220.2" r="10" fill="#7474ff"/><circle cx="672.7" cy="220.2" r="7" fill="#b2b2ff"/><circle cx="672.7" cy="220.2" r="3.5" fill="#f8f8ff"/>
<circle cx="700.3" cy="222.6" r="19.5" fill="#0000ff"/><circle cx="694.3" cy="216.4" r="10" fill="#7474ff"/><circle cx="694.3" cy="216.4" r="7" fill="#b2b2ff"/><circle cx="694.3" cy="216.4" r="3.5" fill="#f8f8ff"/>
<circle cx="722.4" cy="215.7" r="19.5" fill="#0000ff"/><circle cx="716.4" cy="209.5" r="10" fill="#7474ff"/><circle cx="716.4" cy="209.5" r="7" fill="#b2b2ff"/><circle cx="716.4" cy="209.5" r="3.5" fill="#f8f8ff"/>
<circle cx="744.2" cy="213.8" r="19.5" fill="#0000ff"/><circle cx="738.2" cy="207.6" r="10" fill="#7474ff"/><circle cx="738.2" cy="207.6" r="7" fill="#b2b2ff"/><circle cx="738.2" cy="207.6" r="3.5" fill="#f8f8ff"/>
<circle cx="767.7" cy="222.8" r="19.5" fill="#0000ff"/><circle cx="761.7" cy="216.6" r="10" fill="#7474ff"/><circle cx="761.7" cy="216.6" r="7" fill="#b2b2ff"/><circle cx="761.7" cy="216.6" r="3.5" fill="#f8f8ff"/>
<circle cx="787.9" cy="232.6" r="19.5" fill="#0000ff"/><circle cx="781.9" cy="226.4" r="10" fill="#7474ff"/><circle cx="781.9" cy="226.4" r="7" fill="#b2b2ff"/><circle cx="781.9" cy="226.4" r="3.5" fill="#f8f8ff"/>
<circle cx="812.8" cy="240.3" r="19.5" fill="#0000ff"/><circle cx="806.8" cy="234.1" r="10" fill="#7474ff"/><circle cx="806.8" cy="234.1" r="7" fill="#b2b2ff"/><circle cx="806.8" cy="234.1" r="3.5" fill="#f8f8ff"/>
<circle cx="854.5" cy="259.9" r="19.5" fill="#0000ff"/><circle cx="848.5" cy="253.7" r="10" fill="#7474ff"/><circle cx="848.5" cy="253.7" r="7" fill="#b2b2ff"/><circle cx="848.5" cy="253.7" r="3.5" fill="#f8f8ff"/>
<circle cx="898.5" cy="291.4" r="19.5" fill="#0000ff"/><circle cx="892.5" cy="285.2" r="10" fill="#7474ff"/><circle cx="892.5" cy="285.2" r="7" fill="#b2b2ff"/><circle cx="892.5" cy="285.2" r="3.5" fill="#f8f8ff"/>
<circle cx="921" cy="317" r="19.5" fill="#0000ff"/><circle cx="915" cy="310.8" r="10" fill="#7474ff"/><circle cx="915" cy="310.8" r="7" fill="#b2b2ff"/><circle cx="915" cy="310.8" r="3.5" fill="#f8f8ff"/>
<circle cx="965.2" cy="346.3" r="19.5" fill="#0000ff"/><circle cx="959.2" cy="340.1" r="10" fill="#7474ff"/><circle cx="959.2" cy="340.1" r="7" fill="#b2b2ff"/><circle cx="959.2" cy="340.1" r="3.5" fill="#f8f8ff"/>
<circle cx="1009.1" cy="377.9" r="19.5" fill="#0000ff"/><circle cx="1003.1" cy="371.7" r="10" fill="#7474ff"/><circle cx="1003.1" cy="371.7" r="7" fill="#b2b2ff"/><circle cx="1003.1" cy="371.7" r="3.5" fill="#f8f8ff"/>
<circle cx="1053.6" cy="398.6" r="19.5" fill="#0000ff"/><circle cx="1047.6" cy="392.4" r="10" fill="#7474ff"/><circle cx="1047.6" cy="392.4" r="7" fill="#b2b2ff"/><circle cx="1047.6" cy="392.4" r="3.5" fill="#f8f8ff"/>
<circle cx="1077.2" cy="416.5" r="19.5" fill="#0000ff"/><circle cx="1071.2" cy="410.3" r="10" fill="#7474ff"/><circle cx="1071.2" cy="410.3" r="7" fill="#b2b2ff"/><circle cx="1071.2" cy="410.3" r="3.5" fill="#f8f8ff"/>
<circle cx="1120.7" cy="426.5" r="19.5" fill="#0000ff"/><circle cx="1114.7" cy="420.3" r="10" fill="#7474ff"/><circle cx="1114.7" cy="420.3" r="7" fill="#b2b2ff"/><circle cx="1114.7" cy="420.3" r="3.5" fill="#f8f8ff"/>
<circle cx="1140" cy="445.2" r="19.5" fill="#0000ff"/><circle cx="1134" cy="439" r="10" fill="#7474ff"/><circle cx="1134" cy="439" r="7" fill="#b2b2ff"/><circle cx="1134" cy="439" r="3.5" fill="#f8f8ff"/>
<circle cx="1162.8" cy="464.1" r="19.5" fill="#0000ff"/><circle cx="1156.8" cy="457.9" r="10" fill="#7474ff"/><circle cx="1156.8" cy="457.9" r="7" fill="#b2b2ff"/><circle cx="1156.8" cy="457.9" r="3.5" fill="#f8f8ff"/>
<circle cx="1179.9" cy="482.8" r="19.5" fill="#0000ff"/><circle cx="1173.9" cy="476.6" r="10" fill="#7474ff"/><circle cx="1173.9" cy="476.6" r="7" fill="#b2b2ff"/><circle cx="1173.9" cy="476.6" r="3.5" fill="#f8f8ff"/>
<circle cx="1203.1" cy="502.8" r="19.5" fill="#0000ff"/><circle cx="1197.1" cy="496.6" r="10" fill="#7474ff"/><circle cx="1197.1" cy="496.6" r="7" fill="#b2b2ff"/><circle cx="1197.1" cy="496.6" r="3.5" fill="#f8f8ff"/>
<circle cx="1229" cy="512.6" r="19.5" fill="#0000ff"/><circle cx="1223" cy="506.4" r="10" fill="#7474ff"/><circle cx="1223" cy="506.4" r="7" fill="#b2b2ff"/><circle cx="1223" cy="506.4" r="3.5" fill="#f8f8ff"/>
<circle cx="1251.1" cy="521.7" r="19.5" fill="#0000ff"/><circle cx="1245.1" cy="515.5" r="10" fill="#7474ff"/><circle cx="1245.1" cy="515.5" r="7" fill="#b2b2ff"/><circle cx="1245.1" cy="515.5" r="3.5" fill="#f8f8ff"/>
<circle cx="1273.6" cy="553.6" r="19.5" fill="#0000ff"/><circle cx="1267.6" cy="547.4" r="10" fill="#7474ff"/><circle cx="1267.6" cy="547.4" r="7" fill="#b2b2ff"/><circle cx="1267.6" cy="547.4" r="3.5" fill="#f8f8ff"/>
<circle cx="1295.7" cy="590" r="19.5" fill="#0000ff"/><circle cx="1289.7" cy="583.8" r="10" fill="#7474ff"/><circle cx="1289.7" cy="583.8" r="7" fill="#b2b2ff"/><circle cx="1289.7" cy="583.8" r="3.5" fill="#f8f8ff"/>
<circle cx="1317.8" cy="622.4" r="19.5" fill="#0000ff"/><circle cx="1311.8" cy="616.2" r="10" fill="#7474ff"/><circle cx="1311.8" cy="616.2" r="7" fill="#b2b2ff"/><circle cx="1311.8" cy="616.2" r="3.5" fill="#f8f8ff"/>
<circle cx="1339.9" cy="653.8" r="19.5" fill="#0000ff"/><circle cx="1333.9" cy="647.6" r="10" fill="#7474ff"/><circle cx="1333.9" cy="647.6" r="7" fill="#b2b2ff"/><circle cx="1333.9" cy="647.6" r="3.5" fill="#f8f8ff"/>
<circle cx="1362.5" cy="695.6" r="19.5" fill="#0000ff"/><circle cx="1356.5" cy="689.4" r="10" fill="#7474ff"/><circle cx="1356.5" cy="689.4" r="7" fill="#b2b2ff"/><circle cx="1356.5" cy="689.4" r="3.5" fill="#f8f8ff"/>
<circle cx="1385" cy="760" r="19.5" fill="#0000ff"/><circle cx="1379" cy="753.8" r="10" fill="#7474ff"/><circle cx="1379" cy="753.8" r="7" fill="#b2b2ff"/><circle cx="1379" cy="753.8" r="3.5" fill="#f8f8ff"/>
<circle cx="1407.1" cy="811.8" r="19.5" fill="#0000ff"/><circle cx="1401.1" cy="805.6" r="10" fill="#7474ff"/><circle cx="1401.1" cy="805.6" r="7" fill="#b2b2ff"/><circle cx="1401.1" cy="805.6" r="3.5" fill="#f8f8ff"/>
<circle cx="1425.7" cy="846.4" r="19.5" fill="#0000ff"/><circle cx="1419.7" cy="840.2" r="10" fill="#7474ff"/><circle cx="1419.7" cy="840.2" r="7" fill="#b2b2ff"/><circle cx="1419.7" cy="840.2" r="3.5" fill="#f8f8ff"/>
<circle cx="1428.7" cy="849.7" r="19.5" fill="#0000ff"/><circle cx="1422.7" cy="843.5" r="10" fill="#7474ff"/><circle cx="1422.7" cy="843.5" r="7" fill="#b2b2ff"/><circle cx="1422.7" cy="843.5" r="3.5" fill="#f8f8ff"/>
<circle cx="1451" cy="885.2" r="19.5" fill="#0000ff"/><circle cx="1445" cy="879" r="10" fill="#7474ff"/><circle cx="1445" cy="879" r="7" fill="#b2b2ff"/><circle cx="1445" cy="879" r="3.5" fill="#f8f8ff"/>
<circle cx="1471" cy="908.6" r="19.5" fill="#0000ff"/><circle cx="1465" cy="902.4" r="10" fill="#7474ff"/><circle cx="1465" cy="902.4" r="7" fill="#b2b2ff"/><circle cx="1465" cy="902.4" r="3.5" fill="#f8f8ff"/>
<circle cx="1487.5" cy="929.2" r="19.5" fill="#0000ff"/><circle cx="1481.5" cy="923" r="10" fill="#7474ff"/><circle cx="1481.5" cy="923" r="7" fill="#b2b2ff"/><circle cx="1481.5" cy="923" r="3.5" fill="#f8f8ff"/>
<circle cx="1527" cy="959" r="19.5" fill="#0000ff"/><circle cx="1521" cy="952.8" r="10" fill="#7474ff"/><circle cx="1521" cy="952.8" r="7" fill="#b2b2ff"/><circle cx="1521" cy="952.8" r="3.5" fill="#f8f8ff"/>
<circle cx="1536.9" cy="955.5" r="19.5" fill="#0000ff"/><circle cx="1530.9" cy="949.3" r="10" fill="#7474ff"/><circle cx="1530.9" cy="949.3" r="7" fill="#b2b2ff"/><circle cx="1530.9" cy="949.3" r="3.5" fill="#f8f8ff"/>
<circle cx="1558.7" cy="919" r="19.5" fill="#0000ff"/><circle cx="1552.7" cy="912.8" r="10" fill="#7474ff"/><circle cx="1552.7" cy="912.8" r="7" fill="#b2b2ff"/><circle cx="1552.7" cy="912.8" r="3.5" fill="#f8f8ff"/>
<circle cx="1581" cy="851" r="19.5" fill="#0000ff"/><circle cx="1575" cy="844.8" r="10" fill="#7474ff"/><circle cx="1575" cy="844.8" r="7" fill="#b2b2ff"/><circle cx="1575" cy="844.8" r="3.5" fill="#f8f8ff"/>
<circle cx="1603.4" cy="768.8" r="19.5" fill="#0000ff"/><circle cx="1597.4" cy="762.6" r="10" fill="#7474ff"/><circle cx="1597.4" cy="762.6" r="7" fill="#b2b2ff"/><circle cx="1597.4" cy="762.6" r="3.5" fill="#f8f8ff"/>
<circle cx="1625.2" cy="695.1" r="19.5" fill="#0000ff"/><circle cx="1619.2" cy="688.9" r="10" fill="#7474ff"/><circle cx="1619.2" cy="688.9" r="7" fill="#b2b2ff"/><circle cx="1619.2" cy="688.9" r="3.5" fill="#f8f8ff"/>
<circle cx="1647.1" cy="567.9" r="19.5" fill="#0000ff"/><circle cx="1641.1" cy="561.7" r="10" fill="#7474ff"/><circle cx="1641.1" cy="561.7" r="7" fill="#b2b2ff"/><circle cx="1641.1" cy="561.7" r="3.5" fill="#f8f8ff"/>
</g>
<g id="s-green">
<path fill="none" stroke="#0000ff" stroke-width="3.2" d="M941.2 255L945 258.1M983.9 292.5L990.4 298.7M1029.1 333.4L1033.6 337.2M1095.5 397.2L1100.9 401.9M1393.1 632.5L1398.5 647.8M1438.7 735.2L1441.8 743.1M1454.6 793.2L1467.1 885.2M1505.9 955.9L1509.2 959.2M1564.4 911.6L1575.3 862.3M1585.7 811.3L1598.7 741.2M1610 690.5L1618.6 657.8M1629.8 607.1L1642.5 535.8"/>
<circle cx="334.2" cy="191.2" r="19.5" fill="#00ff00"/><circle cx="328.2" cy="185" r="10" fill="#74ff74"/><circle cx="328.2" cy="185" r="7" fill="#b2ffb2"/><circle cx="328.2" cy="185" r="3.5" fill="#f8fff8"/>
<circle cx="353.5" cy="190" r="19.5" fill="#00ff00"/><circle cx="347.5" cy="183.8" r="10" fill="#74ff74"/><circle cx="347.5" cy="183.8" r="7" fill="#b2ffb2"/><circle cx="347.5" cy="183.8" r="3.5" fill="#f8fff8"/>
<circle cx="387.1" cy="187.9" r="19.5" fill="#00ff00"/><circle cx="381.1" cy="181.7" r="10" fill="#74ff74"/><circle cx="381.1" cy="181.7" r="7" fill="#b2ffb2"/><circle cx="381.1" cy="181.7" r="3.5" fill="#f8fff8"/>
<circle cx="413.8" cy="184.1" r="19.5" fill="#00ff00"/><circle cx="407.8" cy="177.9" r="10" fill="#74ff74"/><circle cx="407.8" cy="177.9" r="7" fill="#b2ffb2"/><circle cx="407.8" cy="177.9" r="3.5" fill="#f8fff8"/>
<circle cx="431.3" cy="184.6" r="19.5" fill="#00ff00"/><circle cx="425.3" cy="178.4" r="10" fill="#74ff74"/><circle cx="425.3" cy="178.4" r="7" fill="#b2ffb2"/><circle cx="425.3" cy="178.4" r="3.5" fill="#f8fff8"/>
<circle cx="461.6" cy="181" r="19.5" fill="#00ff00"/><circle cx="455.6" cy="174.8" r="10" fill="#74ff74"/><circle cx="455.6" cy="174.8" r="7" fill="#b2ffb2"/><circle cx="455.6" cy="174.8" r="3.5" fill="#f8fff8"/>
<circle cx="500.9" cy="184.1" r="19.5" fill="#00ff00"/><circle cx="494.9" cy="177.9" r="10" fill="#74ff74"/><circle cx="494.9" cy="177.9" r="7" fill="#b2ffb2"/><circle cx="494.9" cy="177.9" r="3.5" fill="#f8fff8"/>
<circle cx="525.8" cy="184.9" r="19.5" fill="#00ff00"/><circle cx="519.8" cy="178.7" r="10" fill="#74ff74"/><circle cx="519.8" cy="178.7" r="7" fill="#b2ffb2"/><circle cx="519.8" cy="178.7" r="3.5" fill="#f8fff8"/>
<circle cx="568" cy="185.4" r="19.5" fill="#00ff00"/><circle cx="562" cy="179.2" r="10" fill="#74ff74"/><circle cx="562" cy="179.2" r="7" fill="#b2ffb2"/><circle cx="562" cy="179.2" r="3.5" fill="#f8fff8"/>
<circle cx="605.3" cy="186.2" r="19.5" fill="#00ff00"/><circle cx="599.3" cy="180" r="10" fill="#74ff74"/><circle cx="599.3" cy="180" r="7" fill="#b2ffb2"/><circle cx="599.3" cy="180" r="3.5" fill="#f8fff8"/>
<circle cx="635.3" cy="184.1" r="19.5" fill="#00ff00"/><circle cx="629.3" cy="177.9" r="10" fill="#74ff74"/><circle cx="629.3" cy="177.9" r="7" fill="#b2ffb2"/><circle cx="629.3" cy="177.9" r="3.5" fill="#f8fff8"/>
<circle cx="656.9" cy="181.3" r="19.5" fill="#00ff00"/><circle cx="650.9" cy="175.1" r="10" fill="#74ff74"/><circle cx="650.9" cy="175.1" r="7" fill="#b2ffb2"/><circle cx="650.9" cy="175.1" r="3.5" fill="#f8fff8"/>
<circle cx="678.7" cy="177.6" r="19.5" fill="#00ff00"/><circle cx="672.7" cy="171.4" r="10" fill="#74ff74"/><circle cx="672.7" cy="171.4" r="7" fill="#b2ffb2"/><circle cx="672.7" cy="171.4" r="3.5" fill="#f8fff8"/>
<circle cx="700.3" cy="172.6" r="19.5" fill="#00ff00"/><circle cx="694.3" cy="166.4" r="10" fill="#74ff74"/><circle cx="694.3" cy="166.4" r="7" fill="#b2ffb2"/><circle cx="694.3" cy="166.4" r="3.5" fill="#f8fff8"/>
<circle cx="722.4" cy="171.8" r="19.5" fill="#00ff00"/><circle cx="716.4" cy="165.6" r="10" fill="#74ff74"/><circle cx="716.4" cy="165.6" r="7" fill="#b2ffb2"/><circle cx="716.4" cy="165.6" r="3.5" fill="#f8fff8"/>
<circle cx="744.2" cy="170.2" r="19.5" fill="#00ff00"/><circle cx="738.2" cy="164" r="10" fill="#74ff74"/><circle cx="738.2" cy="164" r="7" fill="#b2ffb2"/><circle cx="738.2" cy="164" r="3.5" fill="#f8fff8"/>
<circle cx="767.7" cy="172.3" r="19.5" fill="#00ff00"/><circle cx="761.7" cy="166.1" r="10" fill="#74ff74"/><circle cx="761.7" cy="166.1" r="7" fill="#b2ffb2"/><circle cx="761.7" cy="166.1" r="3.5" fill="#f8fff8"/>
<circle cx="787.9" cy="171" r="19.5" fill="#00ff00"/><circle cx="781.9" cy="164.8" r="10" fill="#74ff74"/><circle cx="781.9" cy="164.8" r="7" fill="#b2ffb2"/><circle cx="781.9" cy="164.8" r="3.5" fill="#f8fff8"/>
<circle cx="812.8" cy="174.3" r="19.5" fill="#00ff00"/><circle cx="806.8" cy="168.1" r="10" fill="#74ff74"/><circle cx="806.8" cy="168.1" r="7" fill="#b2ffb2"/><circle cx="806.8" cy="168.1" r="3.5" fill="#f8fff8"/>
<circle cx="854.5" cy="197.7" r="19.5" fill="#00ff00"/><circle cx="848.5" cy="191.5" r="10" fill="#74ff74"/><circle cx="848.5" cy="191.5" r="7" fill="#b2ffb2"/><circle cx="848.5" cy="191.5" r="3.5" fill="#f8fff8"/>
<circle cx="898.5" cy="213" r="19.5" fill="#00ff00"/><circle cx="892.5" cy="206.8" r="10" fill="#74ff74"/><circle cx="892.5" cy="206.8" r="7" fill="#b2ffb2"/><circle cx="892.5" cy="206.8" r="3.5" fill="#f8fff8"/>
<circle cx="921" cy="238.7" r="19.5" fill="#00ff00"/><circle cx="915" cy="232.5" r="10" fill="#74ff74"/><circle cx="915" cy="232.5" r="7" fill="#b2ffb2"/><circle cx="915" cy="232.5" r="3.5" fill="#f8fff8"/>
<circle cx="965.2" cy="274.4" r="19.5" fill="#00ff00"/><circle cx="959.2" cy="268.2" r="10" fill="#74ff74"/><circle cx="959.2" cy="268.2" r="7" fill="#b2ffb2"/><circle cx="959.2" cy="268.2" r="3.5" fill="#f8fff8"/>
<circle cx="1009.1" cy="316.8" r="19.5" fill="#00ff00"/><circle cx="1003.1" cy="310.6" r="10" fill="#74ff74"/><circle cx="1003.1" cy="310.6" r="7" fill="#b2ffb2"/><circle cx="1003.1" cy="310.6" r="3.5" fill="#f8fff8"/>
<circle cx="1053.6" cy="353.8" r="19.5" fill="#00ff00"/><circle cx="1047.6" cy="347.6" r="10" fill="#74ff74"/><circle cx="1047.6" cy="347.6" r="7" fill="#b2ffb2"/><circle cx="1047.6" cy="347.6" r="3.5" fill="#f8fff8"/>
<circle cx="1075.7" cy="380.3" r="19.5" fill="#00ff00"/><circle cx="1069.7" cy="374.1" r="10" fill="#74ff74"/><circle cx="1069.7" cy="374.1" r="7" fill="#b2ffb2"/><circle cx="1069.7" cy="374.1" r="3.5" fill="#f8fff8"/>
<circle cx="1120.7" cy="418.8" r="19.5" fill="#00ff00"/><circle cx="1114.7" cy="412.6" r="10" fill="#74ff74"/><circle cx="1114.7" cy="412.6" r="7" fill="#b2ffb2"/><circle cx="1114.7" cy="412.6" r="3.5" fill="#f8fff8"/>
<circle cx="1140" cy="432.4" r="19.5" fill="#00ff00"/><circle cx="1134" cy="426.2" r="10" fill="#74ff74"/><circle cx="1134" cy="426.2" r="7" fill="#b2ffb2"/><circle cx="1134" cy="426.2" r="3.5" fill="#f8fff8"/>
<circle cx="1162.7" cy="443.9" r="19.5" fill="#00ff00"/><circle cx="1156.7" cy="437.7" r="10" fill="#74ff74"/><circle cx="1156.7" cy="437.7" r="7" fill="#b2ffb2"/><circle cx="1156.7" cy="437.7" r="3.5" fill="#f8fff8"/>
<circle cx="1179.9" cy="454.6" r="19.5" fill="#00ff00"/><circle cx="1173.9" cy="448.4" r="10" fill="#74ff74"/><circle cx="1173.9" cy="448.4" r="7" fill="#b2ffb2"/><circle cx="1173.9" cy="448.4" r="3.5" fill="#f8fff8"/>
<circle cx="1203.1" cy="457.5" r="19.5" fill="#00ff00"/><circle cx="1197.1" cy="451.3" r="10" fill="#74ff74"/><circle cx="1197.1" cy="451.3" r="7" fill="#b2ffb2"/><circle cx="1197.1" cy="451.3" r="3.5" fill="#f8fff8"/>
<circle cx="1229" cy="474.4" r="19.5" fill="#00ff00"/><circle cx="1223" cy="468.2" r="10" fill="#74ff74"/><circle cx="1223" cy="468.2" r="7" fill="#b2ffb2"/><circle cx="1223" cy="468.2" r="3.5" fill="#f8fff8"/>
<circle cx="1251.1" cy="473.9" r="19.5" fill="#00ff00"/><circle cx="1245.1" cy="467.7" r="10" fill="#74ff74"/><circle cx="1245.1" cy="467.7" r="7" fill="#b2ffb2"/><circle cx="1245.1" cy="467.7" r="3.5" fill="#f8fff8"/>
<circle cx="1273.6" cy="489.6" r="19.5" fill="#00ff00"/><circle cx="1267.6" cy="483.4" r="10" fill="#74ff74"/><circle cx="1267.6" cy="483.4" r="7" fill="#b2ffb2"/><circle cx="1267.6" cy="483.4" r="3.5" fill="#f8fff8"/>
<circle cx="1295.7" cy="508.1" r="19.5" fill="#00ff00"/><circle cx="1289.7" cy="501.9" r="10" fill="#74ff74"/><circle cx="1289.7" cy="501.9" r="7" fill="#b2ffb2"/><circle cx="1289.7" cy="501.9" r="3.5" fill="#f8fff8"/>
<circle cx="1317.8" cy="513.8" r="19.5" fill="#00ff00"/><circle cx="1311.8" cy="507.6" r="10" fill="#74ff74"/><circle cx="1311.8" cy="507.6" r="7" fill="#b2ffb2"/><circle cx="1311.8" cy="507.6" r="3.5" fill="#f8fff8"/>
<circle cx="1339.9" cy="531" r="19.5" fill="#00ff00"/><circle cx="1333.9" cy="524.8" r="10" fill="#74ff74"/><circle cx="1333.9" cy="524.8" r="7" fill="#b2ffb2"/><circle cx="1333.9" cy="524.8" r="3.5" fill="#f8fff8"/>
<circle cx="1362.5" cy="570.7" r="19.5" fill="#00ff00"/><circle cx="1356.5" cy="564.5" r="10" fill="#74ff74"/><circle cx="1356.5" cy="564.5" r="7" fill="#b2ffb2"/><circle cx="1356.5" cy="564.5" r="3.5" fill="#f8fff8"/>
<circle cx="1384.6" cy="608" r="19.5" fill="#00ff00"/><circle cx="1378.6" cy="601.8" r="10" fill="#74ff74"/><circle cx="1378.6" cy="601.8" r="7" fill="#b2ffb2"/><circle cx="1378.6" cy="601.8" r="3.5" fill="#f8fff8"/>
<circle cx="1407" cy="672.4" r="19.5" fill="#00ff00"/><circle cx="1401" cy="666.2" r="10" fill="#74ff74"/><circle cx="1401" cy="666.2" r="7" fill="#b2ffb2"/><circle cx="1401" cy="666.2" r="3.5" fill="#f8fff8"/>
<circle cx="1426.5" cy="707.6" r="19.5" fill="#00ff00"/><circle cx="1420.5" cy="701.4" r="10" fill="#74ff74"/><circle cx="1420.5" cy="701.4" r="7" fill="#b2ffb2"/><circle cx="1420.5" cy="701.4" r="3.5" fill="#f8fff8"/>
<circle cx="1429.4" cy="710.9" r="19.5" fill="#00ff00"/><circle cx="1423.4" cy="704.7" r="10" fill="#74ff74"/><circle cx="1423.4" cy="704.7" r="7" fill="#b2ffb2"/><circle cx="1423.4" cy="704.7" r="3.5" fill="#f8fff8"/>
<circle cx="1451.1" cy="767.4" r="19.5" fill="#00ff00"/><circle cx="1445.1" cy="761.2" r="10" fill="#74ff74"/><circle cx="1445.1" cy="761.2" r="7" fill="#b2ffb2"/><circle cx="1445.1" cy="761.2" r="3.5" fill="#f8fff8"/>
<circle cx="1470.6" cy="911" r="19.5" fill="#00ff00"/><circle cx="1464.6" cy="904.8" r="10" fill="#74ff74"/><circle cx="1464.6" cy="904.8" r="7" fill="#b2ffb2"/><circle cx="1464.6" cy="904.8" r="3.5" fill="#f8fff8"/>
<circle cx="1487.4" cy="937.6" r="19.5" fill="#00ff00"/><circle cx="1481.4" cy="931.4" r="10" fill="#74ff74"/><circle cx="1481.4" cy="931.4" r="7" fill="#b2ffb2"/><circle cx="1481.4" cy="931.4" r="3.5" fill="#f8fff8"/>
<circle cx="1527.7" cy="977.5" r="19.5" fill="#00ff00"/><circle cx="1521.7" cy="971.3" r="10" fill="#74ff74"/><circle cx="1521.7" cy="971.3" r="7" fill="#b2ffb2"/><circle cx="1521.7" cy="971.3" r="3.5" fill="#f8fff8"/>
<circle cx="1536.8" cy="970.3" r="19.5" fill="#00ff00"/><circle cx="1530.8" cy="964.1" r="10" fill="#74ff74"/><circle cx="1530.8" cy="964.1" r="7" fill="#b2ffb2"/><circle cx="1530.8" cy="964.1" r="3.5" fill="#f8fff8"/>
<circle cx="1558.7" cy="937" r="19.5" fill="#00ff00"/><circle cx="1552.7" cy="930.8" r="10" fill="#74ff74"/><circle cx="1552.7" cy="930.8" r="7" fill="#b2ffb2"/><circle cx="1552.7" cy="930.8" r="3.5" fill="#f8fff8"/>
<circle cx="1581" cy="836.9" r="19.5" fill="#00ff00"/><circle cx="1575" cy="830.7" r="10" fill="#74ff74"/><circle cx="1575" cy="830.7" r="7" fill="#b2ffb2"/><circle cx="1575" cy="830.7" r="3.5" fill="#f8fff8"/>
<circle cx="1603.4" cy="715.6" r="19.5" fill="#00ff00"/><circle cx="1597.4" cy="709.4" r="10" fill="#74ff74"/><circle cx="1597.4" cy="709.4" r="7" fill="#b2ffb2"/><circle cx="1597.4" cy="709.4" r="3.5" fill="#f8fff8"/>
<circle cx="1625.2" cy="632.7" r="19.5" fill="#00ff00"/><circle cx="1619.2" cy="626.5" r="10" fill="#74ff74"/><circle cx="1619.2" cy="626.5" r="7" fill="#b2ffb2"/><circle cx="1619.2" cy="626.5" r="3.5" fill="#f8fff8"/>
<circle cx="1647.1" cy="510.2" r="19.5" fill="#00ff00"/><circle cx="1641.1" cy="504" r="10" fill="#74ff74"/><circle cx="1641.1" cy="504" r="7" fill="#b2ffb2"/><circle cx="1641.1" cy="504" r="3.5" fill="#f8fff8"/>
</g>
<rect x="635.5" y="592.5" width="300" height="266" fill="#fff" stroke="#000" stroke-width="3"/>
<path fill="none" stroke="#000000" stroke-width="3" d="M638 626.5H681M723 626.5H766"/>
<circle cx="702" cy="626.9" r="19.5" fill="#000000"/><circle cx="696" cy="620.7" r="10" fill="#7a7a7a"/><circle cx="696" cy="620.7" r="7" fill="#b0b0b0"/><circle cx="696" cy="620.7" r="3.5" fill="#f8f8f8"/>
<text class="lg" transform="translate(777.6 643.6) scale(1.012 1)" xml:space="preserve"> 1kHz</text>
<path fill="none" stroke="#ff0000" stroke-width="3" d="M638 693.5H681M723 693.5H766"/>
<circle cx="702" cy="693.6" r="19.5" fill="#ff0000"/><circle cx="696" cy="687.4" r="10" fill="#ff7474"/><circle cx="696" cy="687.4" r="7" fill="#ffb2b2"/><circle cx="696" cy="687.4" r="3.5" fill="#fff8f8"/>
<text class="lg" transform="translate(777.6 710.8) scale(1.012 1)" xml:space="preserve">10kHZ</text>
<path fill="none" stroke="#00ff00" stroke-width="3" d="M638 760.5H681M723 760.5H766"/>
<circle cx="702" cy="760.7" r="19.5" fill="#0000ff"/><circle cx="696" cy="754.5" r="10" fill="#7474ff"/><circle cx="696" cy="754.5" r="7" fill="#b2b2ff"/><circle cx="696" cy="754.5" r="3.5" fill="#f8f8ff"/>
<text class="lg" transform="translate(777.6 777.8) scale(1.012 1)" xml:space="preserve">100kHZ</text>
<path fill="none" stroke="#0000ff" stroke-width="3" d="M638 827.5H681M723 827.5H766"/>
<circle cx="702" cy="827.2" r="19.5" fill="#00ff00"/><circle cx="696" cy="821" r="10" fill="#74ff74"/><circle cx="696" cy="821" r="7" fill="#b2ffb2"/><circle cx="696" cy="821" r="3.5" fill="#f8fff8"/>
<text class="lg" transform="translate(777.6 845.3) scale(1.012 1)" xml:space="preserve">1MHz</text>
</svg>
</body></html>
